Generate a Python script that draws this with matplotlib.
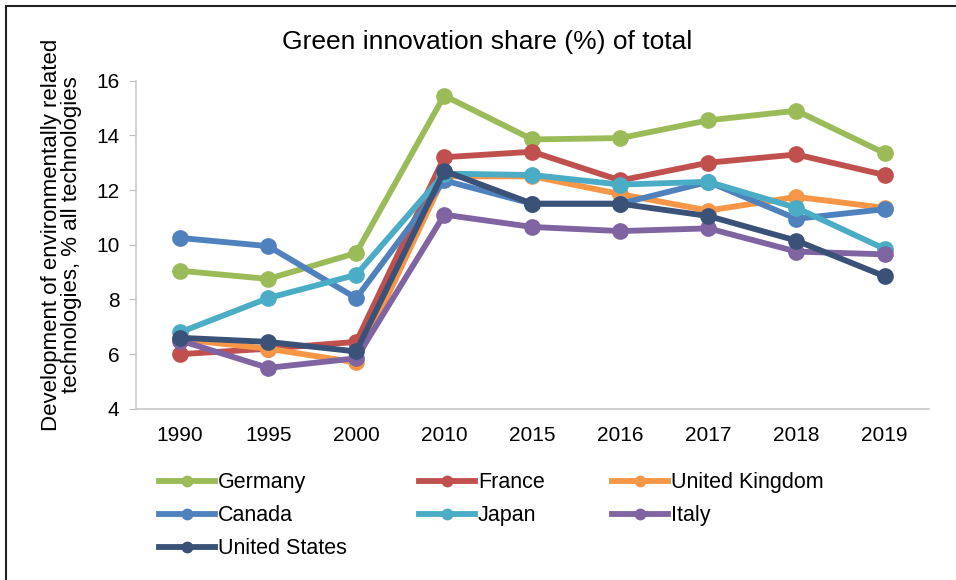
import matplotlib.pyplot as plt
from matplotlib.lines import Line2D
from matplotlib.patches import Rectangle

plt.rcParams['font.family'] = ['Liberation Sans', 'DejaVu Sans']

years = ['1990', '1995', '2000', '2010', '2015', '2016', '2017', '2018', '2019']

germany = [9.05, 8.75, 9.7, 15.45, 13.85, 13.9, 14.55, 14.9, 13.35]
france = [6.0, 6.2, 6.45, 13.2, 13.4, 12.35, 13.0, 13.3, 12.55]
uk = [6.55, 6.2, 5.7, 12.5, 12.5, 11.85, 11.25, 11.75, 11.35]
canada = [10.25, 9.95, 8.05, 12.35, 11.5, 11.5, 12.3, 10.95, 11.3]
japan = [6.8, 8.05, 8.9, 12.6, 12.55, 12.2, 12.3, 11.35, 9.85]
italy = [6.5, 5.5, 5.85, 11.1, 10.65, 10.5, 10.6, 9.75, 9.65]
usa = [6.6, 6.45, 6.1, 12.7, 11.5, 11.5, 11.05, 10.15, 8.85]

series = [
    ('Germany', germany, '#9BBB59'),
    ('France', france, '#C0504D'),
    ('United Kingdom', uk, '#F79646'),
    ('Canada', canada, '#4F81BD'),
    ('Japan', japan, '#4BACC6'),
    ('Italy', italy, '#8064A2'),
    ('United States', usa, '#3A5277'),
]

fig = plt.figure(figsize=(9.56, 5.8), dpi=100)
ax = fig.add_axes([0.1423, 0.295, 0.829, 0.566])

handles = {}
for name, vals, col in series:
    ax.plot(years, vals, '-o', color=col, linewidth=4.2, markersize=11,
            solid_capstyle='round')
    handles[name] = Line2D([], [], color=col, linewidth=4.2, marker='o', markersize=7.5)

ax.set_ylim(4, 16)
ax.set_yticks([4, 6, 8, 10, 12, 14, 16])
ax.set_xlim(-0.5, len(years) - 0.5)
ax.tick_params(axis='y', labelsize=15, length=5, color='#bfbfbf', pad=7)
ax.tick_params(axis='x', labelsize=15, length=0, pad=12)
for s in ['top', 'right']:
    ax.spines[s].set_visible(False)
for s in ['left', 'bottom']:
    ax.spines[s].set_color('#c8c8c8')
    ax.spines[s].set_linewidth(1.2)

ax.set_ylabel('Development of environmentally related\ntechnologies, % all technologies',
              fontsize=16, labelpad=10, linespacing=0.95)
ax.yaxis.label.set_y(0.53)
fig.text(0.51, 0.928, 'Green innovation share (%) of total', fontsize=19,
         ha='center', va='center')

# legend laid out in three columns like the original
cols = [(['Germany', 'Canada', 'United States'], 0.166),
        (['France', 'Japan'], 0.438),
        (['United Kingdom', 'Italy'], 0.640)]
for names, x in cols:
    leg = fig.legend([handles[n] for n in names], names, loc='upper left',
                     bbox_to_anchor=(x, 0.186), frameon=False, fontsize=15.5,
                     handlelength=2.6, handletextpad=0.15, labelspacing=0.56,
                     borderpad=0, borderaxespad=0)

fig.add_artist(Rectangle((6 / 956, -0.1), 1.2, (580 - 6) / 580 + 0.1,
                         transform=fig.transFigure, fill=False,
                         edgecolor='#222222', linewidth=1.5))

fig.savefig('out.png', dpi=100)
